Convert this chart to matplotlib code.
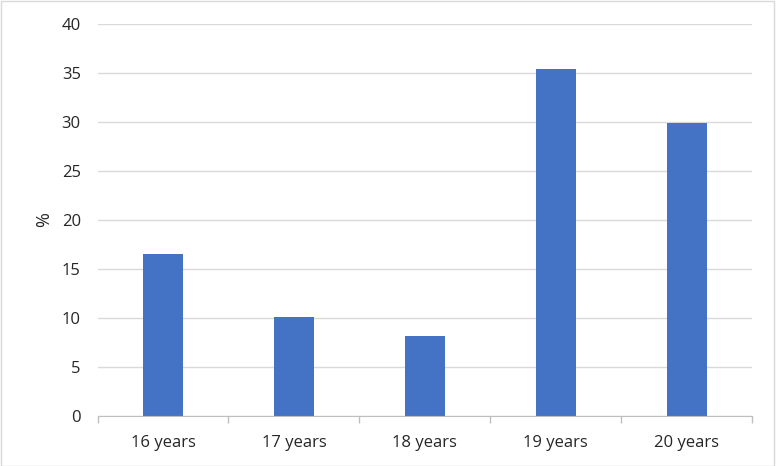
import matplotlib
matplotlib.use("Agg")
import matplotlib.pyplot as plt
from matplotlib.patches import Rectangle
import numpy as np

categories = ["16 years", "17 years", "18 years", "19 years", "20 years"]
values = [16.5, 10.1, 8.1, 35.4, 29.9]
yticks = [0, 5, 10, 15, 20, 25, 30, 35, 40]

plt.rcParams['font.family'] = ['Open Sans', 'DejaVu Sans']

W, H = 776, 466
fig = plt.figure(figsize=(W / 100, H / 100), dpi=100)
ax = fig.add_axes([97.5 / W, 1 - 415.7 / H, (752.3 - 97.5) / W, (415.7 - 24.3) / H])

x = np.arange(len(categories))
ax.bar(x, values, width=0.31, color="#4472C4", zorder=3)

ax.set_xlim(-0.5, len(categories) - 0.5)
ax.set_ylim(0, 40)
ax.set_yticks(yticks)
ax.set_yticklabels([str(t) for t in yticks], fontsize=12, color="#262626")
ax.yaxis.grid(True, color="#D9D9D9", linewidth=1, zorder=0)
ax.tick_params(axis="y", length=0, pad=12)

ax.set_xticks(np.arange(-0.5, len(categories), 1.0))
ax.set_xticklabels([])
ax.set_xticks(x, minor=True)
ax.set_xticklabels(categories, minor=True, fontsize=12, color="#262626")
ax.tick_params(axis="x", which="major", length=5, color="#BFBFBF", width=1)
ax.tick_params(axis="x", which="minor", length=0, pad=14)

for s in ["top", "right", "left"]:
    ax.spines[s].set_visible(False)
ax.spines["bottom"].set_color("#BFBFBF")
ax.spines["bottom"].set_zorder(4)

ax.set_ylabel("%", fontsize=13, color="#262626", labelpad=6)

fig.patches.append(Rectangle((0.5 / W, 0.5 / H), (W - 3) / W, (H - 1.5) / H,
                             transform=fig.transFigure, fill=False,
                             edgecolor="#D9D9D9", linewidth=1))

fig.savefig("out.png", dpi=100)
